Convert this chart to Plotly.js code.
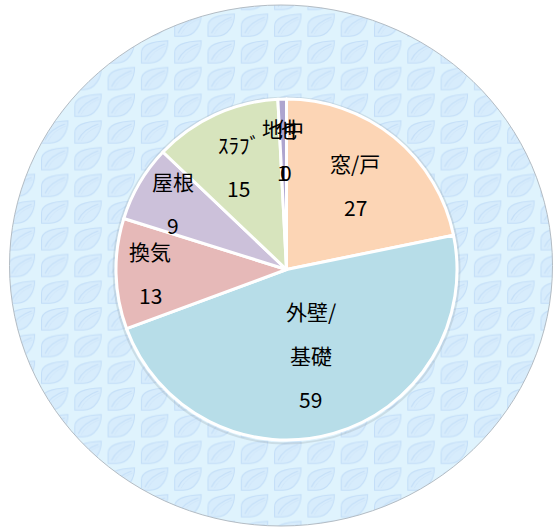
<!DOCTYPE html>
<html><head><meta charset="utf-8">
<script src="https://cdn.plot.ly/plotly-3.0.1.min.js"></script>
<style>html,body{margin:0;padding:0;background:#fff}#chart{width:553px;height:528px}</style>
</head><body><div id="chart"></div>
<script>
// ---- data ----
const categories = ['窓/戸', '外壁/基礎', '換気', '屋根', 'ｽﾗﾌﾞ', '地中', '他'];
const values = [27, 59, 13, 9, 15, 1, 0];
const labelLines = [['窓/戸'], ['外壁/', '基礎'], ['換気'], ['屋根'], ['ｽﾗﾌﾞ'], ['地中'], ['他']];

// ---- style ----
const W = 553, H = 528;
const colors = ['#fcd5b5', '#b7dde8', '#e6b9b8', '#ccc1da', '#d7e4bd', '#aea5cf', '#93cddd'];
const cx = 286.5, cy = 269.5, R = 170.5;
const labelRadius = [0.64, 0.52, 0.80, 0.77, 0.67, 0.70, 0.70];
const lineGap = 44;
const fontFamily = '"Noto Sans CJK JP", "Noto Sans", sans-serif';

// background ellipse with leaf pattern
const bgSvg = "<svg xmlns='http://www.w3.org/2000/svg' width='553' height='528' viewBox='0 0 553 528'>" +
  "<defs><pattern id='p' patternUnits='userSpaceOnUse' x='6.7' y='13.3' width='33.3' height='26.7'>" +
  "<rect width='33.3' height='26.7' fill='#dff3fd'/>" +
  "<path d='M1.5,23 L1.5,13 C1.5,5 10,1.5 28,0.8 C28,11 22,23 10,23 Z' fill='#d7ecfc' stroke='#c3def8' stroke-width='1'/>" +
  "<path d='M5,20 C9,11 16,7 25,4' fill='none' stroke='#c3def8' stroke-width='1'/>" +
  "<path d='M8,21 C12,13 18,9 26,6' fill='none' stroke='#cde4f9' stroke-width='0.8'/>" +
  "</pattern></defs>" +
  "<ellipse cx='281' cy='265.5' rx='271.5' ry='260.5' fill='url(#p)' stroke='#b3bcc4' stroke-width='1'/>" +
  "</svg>";
const bgSrc = 'data:image/svg+xml;charset=utf-8,' + encodeURIComponent(bgSvg);

// ---- label positions computed from the data ----
const total = values.reduce((a, b) => a + b, 0);
const annotations = [];
let acc = 0;
values.forEach((v, i) => {
  const mid = (acc + v / 2) / total * 2 * Math.PI;
  acc += v;
  const r = R * labelRadius[i];
  const bx = cx + r * Math.sin(mid);
  const by = cy - r * Math.cos(mid);
  const lines = labelLines[i].concat([String(v)]);
  const n = lines.length;
  lines.forEach((t, k) => {
    const py = by + (k - (n - 1) / 2) * lineGap;
    annotations.push({
      text: t, xref: 'paper', yref: 'paper',
      x: bx / W, y: 1 - py / H, xanchor: 'center', yanchor: 'middle',
      showarrow: false, font: {family: fontFamily, size: 21, color: '#000'}
    });
  });
});

const trace = {
  type: 'pie',
  labels: categories,
  values: values,
  sort: false,
  direction: 'clockwise',
  rotation: 0,
  textinfo: 'none',
  hoverinfo: 'none',
  showlegend: false,
  marker: {colors: colors, line: {color: '#ffffff', width: 3}},
  domain: {x: [(cx - R) / W, (cx + R) / W], y: [1 - (cy + R) / H, 1 - (cy - R) / H]}
};

const layout = {
  width: W, height: H,
  margin: {l: 0, r: 0, t: 0, b: 0, pad: 0},
  paper_bgcolor: '#ffffff',
  showlegend: false,
  images: [{source: bgSrc, xref: 'paper', yref: 'paper', x: 0, y: 1, sizex: 1, sizey: 1,
            sizing: 'stretch', xanchor: 'left', yanchor: 'top', layer: 'below'}],
  shapes: [{type: 'circle', xref: 'paper', yref: 'paper', layer: 'below',
            x0: (cx - R - 2.5) / W, x1: (cx + R + 2.5) / W,
            y0: 1 - (cy + R + 3.5) / H, y1: 1 - (cy - R - 1.5) / H,
            line: {color: 'rgba(110,120,130,0.18)', width: 2}, fillcolor: 'rgba(0,0,0,0)'}],
  annotations: annotations
};

Plotly.newPlot('chart', [trace], layout, {staticPlot: true, displayModeBar: false});
</script>
</body></html>
